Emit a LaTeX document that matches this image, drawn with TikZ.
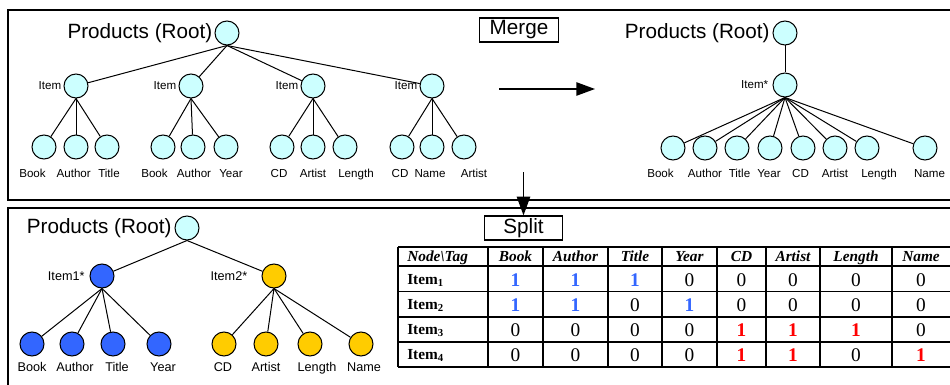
\documentclass[tikz,border=0pt]{standalone}
\usepackage{fontspec}
\setmainfont{Liberation Sans}
\newfontfamily\tablefont{Liberation Serif}
\usepackage{tikz}
\usetikzlibrary{arrows.meta, positioning}
\definecolor{nodecyan}{HTML}{CCFFFF}
\definecolor{nodeblue}{HTML}{3366FF}
\definecolor{nodegold}{HTML}{FFCC00}
\definecolor{oneblue}{HTML}{3366FF}
\definecolor{onered}{HTML}{FF0000}
\newcommand{\tabval}[2]{\ifnum#1=1 \textbf{\color{#2}1}\else 0\fi}

\begin{document}
\begin{tikzpicture}[
    x=0.75pt, y=-0.75pt,
    tnode/.style={circle, draw, line width=0.75pt, minimum size=18pt, inner sep=0pt},
    edge/.style={line width=0.75pt},
    big/.style={font=\fontsize{15.5}{18}\selectfont, inner sep=0pt},
    small/.style={font=\fontsize{8.7}{10}\selectfont, inner sep=0pt},
    mid/.style={font=\fontsize{9.5}{11}\selectfont, inner sep=0pt},
    opbox/.style={draw, line width=0.9pt, font=\fontsize{15.5}{18}\selectfont, minimum width=59pt, minimum height=18pt, inner sep=0pt},
    frame/.style={line width=1.2pt},
    arrow/.style={-{Triangle[length=14pt, width=10pt]}, line width=1.1pt},
    grid/.style={line width=0.9pt},
    hdr/.style={font=\tablefont\fontsize{11.5}{13}\selectfont\bfseries\itshape, inner sep=0pt, anchor=base},
    rowlbl/.style={font=\tablefont\fontsize{11.5}{13}\selectfont\bfseries, inner sep=0pt, anchor=base west},
    num/.style={font=\tablefont\fontsize{14.5}{16}\selectfont, inner sep=0pt, anchor=base}
]
\useasboundingbox (0,0) rectangle (950,385);
\clip (0,0) rectangle (950,385);

% Frames
\draw[frame] (8,10) rectangle (970,200);
\draw[frame] (8,208) rectangle (970,400);

% Source tree (before merge)
\node[tnode, fill=nodecyan] (r1) at (227,33) {};
\node[big, left=1.5pt of r1] (r1lbl) {Products (Root)};
\foreach \i/\x in {1/76, 2/191, 3/313, 4/432} {
    \node[tnode, fill=nodecyan] (a\i) at (\x,86) {};
    \node[small, left=1.5pt of a\i] (a\i lbl) {Item};
    \draw[edge] (r1.south) -- (a\i);
}
\foreach \p/\x/\t/\tx [count=\k] in {1/44/Book/32.5, 1/76/Author/73.7, 1/107/Title/109,
    2/163/Book/154.5, 2/193/Author/194, 2/226/Year/231,
    3/282/CD/279, 3/313/Artist/313, 3/345/Length/356,
    4/402/CD/400, 4/432/Name/430, 4/464/Artist/474} {
    \node[tnode, fill=nodecyan] (al\k) at (\x,147) {};
    \node[small, anchor=base] (al\k lbl) at (\tx,177) {\t};
    \draw[edge] (a\p.south) -- (al\k);
}

% Merged tree
\node[tnode, fill=nodecyan] (r2) at (785,33) {};
\node[big, left=2pt of r2] (r2lbl) {Products (Root)};
\node[tnode, fill=nodecyan] (b) at (785,85) {};
\node[small, left=3pt of b] (blbl) {Item*};
\draw[edge] (r2) -- (b);
\foreach \x/\t/\tx [count=\k] in {673/Book/660.5, 705/Author/705, 737/Title/739.5, 770/Year/769,
    803/CD/800.5, 835/Artist/835, 867/Length/879, 925/Name/929.5} {
    \node[tnode, fill=nodecyan] (bl\k) at (\x,148) {};
    \node[small, anchor=base] (bl\k lbl) at (\tx,177) {\t};
    \draw[edge] (b.south) -- (bl\k);
}

% Split tree
\node[tnode, fill=nodecyan] (r3) at (187,228) {};
\node[big, left=2pt of r3] (r3lbl) {Products (Root)};
\node[tnode, fill=nodeblue] (c1) at (102,276) {};
\node[mid, left=3.5pt of c1] (c1lbl) {Item1*};
\node[tnode, fill=nodegold] (c2) at (274,276) {};
\node[mid, left=10.5pt of c2] (c2lbl) {Item2*};
\draw[edge] (r3.south) -- (c1);
\draw[edge] (r3.south) -- (c2);
\foreach \p/\x/\t/\tx/\hue [count=\k] in {1/32/Book/32/nodeblue, 1/72/Author/75/nodeblue,
    1/113/Title/117/nodeblue, 1/159/Year/163/nodeblue,
    2/224/CD/223/nodegold, 2/266/Artist/266/nodegold,
    2/310/Length/317/nodegold, 2/361/Name/364/nodegold} {
    \node[tnode, fill=\hue] (cl\k) at (\x,344) {};
    \node[mid, anchor=base] (cl\k lbl) at (\tx,371) {\t};
    \draw[edge] (c\p.south) -- (cl\k);
}

% Operations
\node[opbox] (merge) at (519,30) {Merge};
\node[opbox] (split) at (523.5,228) {Split};
\coordinate (m1) at (499,89);
\coordinate (m2) at (595,89);
\coordinate (s1) at (523.5,172);
\draw[arrow] (m1) -- (m2);
\draw[arrow] (s1) -- (split.north);

% Node/tag table
\foreach \y in {247,266,291.5,317,342,367}
    \draw[grid] (398,\y) -- (960,\y);
\foreach \x in {398,488,543,608,662,717,766,820,892}
    \draw[grid] (\x,247) -- (\x,367);
\node[hdr, anchor=base west] (h0) at (407,261.5) {Node\textbackslash Tag};
\foreach \r/\yy in {1/284, 2/309, 3/334.5, 4/359.5}
    \node[rowlbl] (item\r) at (407,\yy) {Item\textsubscript{\r}};
\foreach \t/\cx/\ra/\rb/\rc/\rd [count=\k] in {Book/515.5/1/1/0/0, Author/575.5/1/1/0/0,
    Title/635/1/0/0/0, Year/689.5/0/1/0/0, CD/741.5/0/0/1/1,
    Artist/793/0/0/1/1, Length/856/0/0/1/0, Name/921/0/0/0/1} {
    \node[hdr] (h\k) at (\cx,261.5) {\t};
    \node[num] (v1-\k) at (\cx,286) {\tabval{\ra}{oneblue}};
    \node[num] (v2-\k) at (\cx,311) {\tabval{\rb}{oneblue}};
    \node[num] (v3-\k) at (\cx,336.5) {\tabval{\rc}{onered}};
    \node[num] (v4-\k) at (\cx,361.5) {\tabval{\rd}{onered}};
}

\end{tikzpicture}
\end{document}
